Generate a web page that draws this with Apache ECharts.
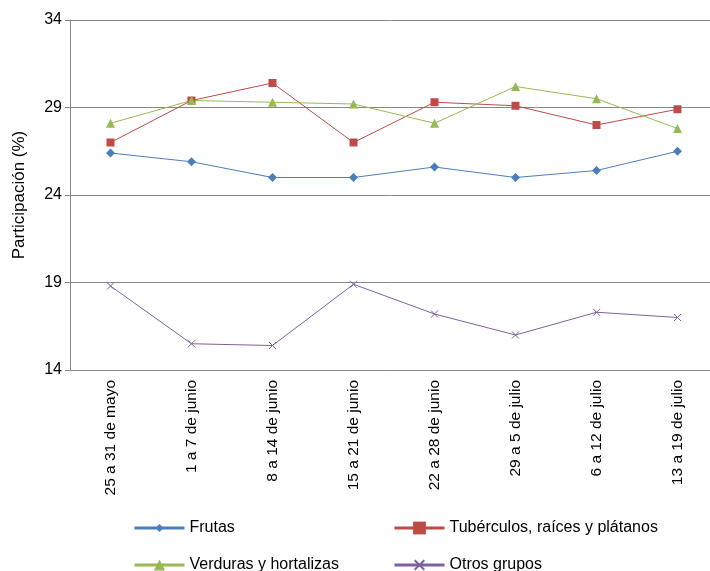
<!DOCTYPE html>
<html><head><meta charset="utf-8">
<script src="https://cdn.jsdelivr.net/npm/echarts@6/dist/echarts.min.js"></script>
<style>html,body{margin:0;background:#fff}#c{width:710px;height:571px}</style>
</head><body><div id="c"></div>
<script>
const categories = ['25 a 31 de mayo','1 a 7 de junio','8 a 14 de junio','15 a 21 de junio','22 a 28 de junio','29 a 5 de julio','6 a 12 de julio','13 a 19 de julio'];
const frutas = [26.4, 25.9, 25.0, 25.0, 25.6, 25.0, 25.4, 26.5];
const tuberculos = [27.0, 29.4, 30.4, 27.0, 29.3, 29.1, 28.0, 28.9];
const verduras = [28.1, 29.4, 29.3, 29.2, 28.1, 30.2, 29.5, 27.8];
const otros = [18.8, 15.5, 15.4, 18.9, 17.2, 16.0, 17.3, 17.0];
const yTicks = [14, 19, 24, 29, 34];

const crossPath = 'path://M0,0L10,10M10,0L0,10';
const font = 'Liberation Sans, Arial, sans-serif';
function line(name, data, color, symbol, size) {
  return { name, type: 'line', data, symbol, symbolSize: size,
    lineStyle: { color, width: 1 },
    itemStyle: symbol === crossPath ? { color: 'none', borderColor: color, borderWidth: 1 } : { color } };
}
function leg(name, left, top, h) {
  return { left, top, itemWidth: 50, itemHeight: h, data: [name], itemGap: 6,
    lineStyle: { width: 3 }, textStyle: { fontSize: 16, color: '#000' } };
}
const chart = echarts.init(document.getElementById('c'));
chart.setOption({
  animation: false,
  textStyle: { fontFamily: font },
  grid: { left: 70, width: 648, top: 20, bottom: 201, containLabel: false, outerBoundsMode: 'none' },
  legend: [
    leg('Frutas', 128, 515, 10),
    leg('Tubérculos, raíces y plátanos', 388, 515, 16),
    leg('Verduras y hortalizas', 128, 552, 14),
    leg('Otros grupos', 388, 552, 12)
  ],
  xAxis: { type: 'category', data: categories, boundaryGap: true,
    axisLine: { lineStyle: { color: '#888' } },
    axisTick: { interval: 0, length: 6, lineStyle: { color: '#888' } },
    axisLabel: { rotate: 90, interval: 0, fontSize: 15.5, color: '#000', margin: 10 } },
  yAxis: { type: 'value', min: 14, max: 34, interval: 5,
    name: 'Participación (%)', nameLocation: 'middle', nameGap: 42,
    nameTextStyle: { fontSize: 17, color: '#000' },
    axisLine: { show: true, lineStyle: { color: '#888' } },
    axisTick: { show: true, length: 5, lineStyle: { color: '#888' } },
    axisLabel: { fontSize: 16, color: '#000', formatter: v => yTicks.includes(v) ? v : '' },
    splitLine: { lineStyle: { color: '#888' } } },
  series: [
    line('Frutas', frutas, '#4a7ebb', 'diamond', 9),
    line('Tubérculos, raíces y plátanos', tuberculos, '#be4b48', 'rect', 8),
    line('Verduras y hortalizas', verduras, '#98b954', 'triangle', 9),
    line('Otros grupos', otros, '#7d60a0', crossPath, 7)
  ]
});
</script></body></html>
